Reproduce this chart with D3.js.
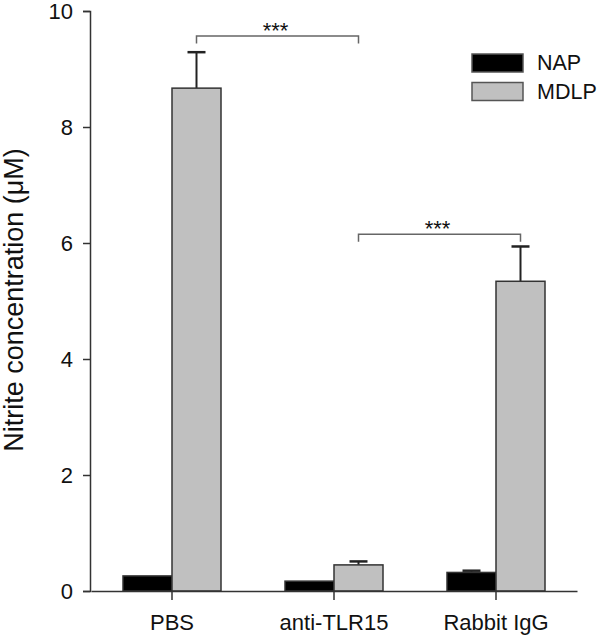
<!DOCTYPE html>
<html>
<head>
<meta charset="utf-8">
<script src="https://cdn.jsdelivr.net/npm/d3@7"></script>
<style>
  body { margin: 0; background: #fff; }
  text { font-family: Arial, "Liberation Sans", sans-serif; fill: #111; }
</style>
</head>
<body>
<svg id="chart" width="600" height="637"></svg>
<script>
const categories = ['PBS', 'anti-TLR15', 'Rabbit IgG'];
const series = ['NAP', 'MDLP'];
const napValues = [0.26, 0.17, 0.32];
const napErrors = [0.0, 0.0, 0.03];
const mdlpValues = [8.67, 0.45, 5.34];
const mdlpErrors = [0.62, 0.06, 0.60];
const yTicks = [0, 2, 4, 6, 8, 10];
// significance brackets: from category i to category j, at value level
const brackets = [
  { from: 0, to: 1, level: 9.57, drop: 0.13, label: '***' },
  { from: 1, to: 2, level: 6.15, drop: 0.13, label: '***' }
];

const colors = { NAP: '#000000', MDLP: '#c0c0c0' };

const svg = d3.select('#chart');

const x = d3.scaleBand().domain(categories).range([91, 577]);
const y = d3.scaleLinear().domain([0, 10]).range([591, 11]);
const barW = 49;

// y axis
const yAxis = svg.append('g')
  .attr('transform', 'translate(90,0)')
  .call(d3.axisLeft(y).tickValues(yTicks).tickSize(7).tickPadding(10).tickFormat(d3.format('d')));
yAxis.select('.domain').attr('stroke', '#333').attr('stroke-width', 1.5);
yAxis.selectAll('.tick line').attr('stroke', '#333').attr('stroke-width', 1.5);
yAxis.selectAll('.tick text').attr('font-size', 22).attr('fill', '#111')
  .style('font-family', 'Arial, "Liberation Sans", sans-serif');

// bars
const data = [];
categories.forEach((c, i) => {
  data.push({ cat: c, s: 'NAP', v: napValues[i], e: napErrors[i], x0: x(c) + x.bandwidth() / 2 - barW });
  data.push({ cat: c, s: 'MDLP', v: mdlpValues[i], e: mdlpErrors[i], x0: x(c) + x.bandwidth() / 2 });
});

// error bars (drawn behind bars)
const err = svg.append('g').selectAll('g').data(data.filter(d => d.e > 0)).join('g');
err.append('line')
  .attr('x1', d => d.x0 + barW / 2).attr('x2', d => d.x0 + barW / 2)
  .attr('y1', d => y(d.v)).attr('y2', d => y(d.v + d.e))
  .attr('stroke', '#222').attr('stroke-width', 2);
err.append('line')
  .attr('x1', d => d.x0 + barW / 2 - 9).attr('x2', d => d.x0 + barW / 2 + 9)
  .attr('y1', d => y(d.v + d.e)).attr('y2', d => y(d.v + d.e))
  .attr('stroke', '#222').attr('stroke-width', 2.5);

svg.append('g').selectAll('rect').data(data).join('rect')
  .attr('x', d => d.x0)
  .attr('y', d => y(d.v))
  .attr('width', barW)
  .attr('height', d => y(0) - y(d.v))
  .attr('fill', d => colors[d.s])
  .attr('stroke', '#333')
  .attr('stroke-width', 1.5);

// x axis
const xAxis = svg.append('g')
  .attr('transform', 'translate(0,591)')
  .call(d3.axisBottom(x).tickSize(9).tickPadding(14).tickSizeOuter(0));
xAxis.select('.domain').attr('stroke', '#333').attr('stroke-width', 1.5);
xAxis.selectAll('.tick line').attr('stroke', '#333').attr('stroke-width', 1.5);
xAxis.selectAll('.tick text').attr('font-size', 22).attr('fill', '#111')
  .style('font-family', 'Arial, "Liberation Sans", sans-serif');

// y title
svg.append('text')
  .attr('transform', 'translate(23,300) rotate(-90)')
  .attr('text-anchor', 'middle')
  .attr('font-size', 27)
  .text('Nitrite concentration (μM)');

// significance brackets
const mCenter = c => x(c) + x.bandwidth() / 2 + barW / 2;
brackets.forEach(b => {
  const x1 = mCenter(categories[b.from]);
  const x2 = mCenter(categories[b.to]);
  svg.append('path')
    .attr('d', `M${x1},${y(b.level - b.drop)}V${y(b.level)}H${x2}V${y(b.level - b.drop)}`)
    .attr('fill', 'none').attr('stroke', '#666').attr('stroke-width', 1.5);
  svg.append('text')
    .attr('x', (x1 + x2) / 2 - 2).attr('y', y(b.level) + 2)
    .attr('text-anchor', 'middle').attr('font-size', 22).attr('fill', '#444')
    .text(b.label);
});

// legend
const legend = svg.append('g').attr('transform', 'translate(472,54)');
const li = legend.selectAll('g').data(series).join('g')
  .attr('transform', (d, i) => `translate(0,${i * 28.5})`);
li.append('rect').attr('width', 51).attr('height', 18)
  .attr('fill', d => colors[d]).attr('stroke', '#555').attr('stroke-width', 1.5);
li.append('text').attr('x', 65).attr('y', 16).attr('font-size', 21.5).text(d => d);
</script>
</body>
</html>
